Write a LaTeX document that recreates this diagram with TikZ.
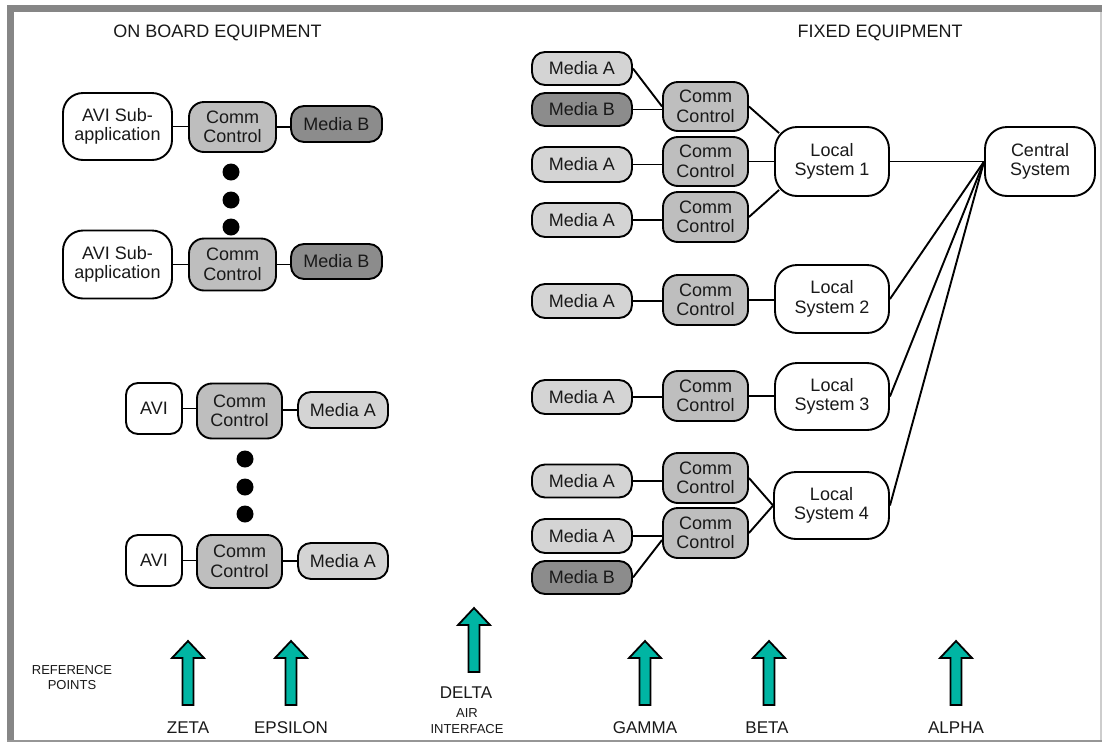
\documentclass[tikz,border=0pt]{standalone}
\usepackage{fontspec}
\setmainfont{Liberation Sans}
\definecolor{framegray}{RGB}{134,134,134}
\definecolor{framelight}{RGB}{150,150,150}
\definecolor{frameedge}{RGB}{205,205,205}
\definecolor{mediaafill}{RGB}{212,212,212}
\definecolor{mediabfill}{RGB}{140,140,140}
\definecolor{commfill}{RGB}{190,190,190}
\definecolor{arrowfill}{RGB}{0,181,163}
\definecolor{inktext}{RGB}{25,25,25}
\tikzset{
  refarrow/.pic={
    \draw[line width=1.8pt, fill=arrowfill, line join=miter]
      (0,0) -- (16,17) -- (5.5,17) -- (5.5,64) -- (-5.5,64) -- (-5.5,17) -- (-16,17) -- cycle;
  }
}
\begin{document}
\begin{tikzpicture}[x=1pt,y=-1pt,
  box/.style={draw=black, line width=1.9pt, inner sep=0pt, align=center, text=inktext,
    font=\fontsize{18}{19.5}\selectfont},
  appbox/.style={box, fill=white, rounded corners=20pt, minimum width=109pt, minimum height=67pt},
  avibox/.style={box, fill=white, rounded corners=12pt, minimum width=56pt, minimum height=51pt},
  commbox/.style={box, fill=commfill, rounded corners=15pt, minimum width=85pt, minimum height=50pt},
  mediaa/.style={box, fill=mediaafill, rounded corners=13pt, minimum width=100pt, minimum height=34pt},
  mediab/.style={box, fill=mediabfill, rounded corners=13pt, minimum width=100pt, minimum height=34pt},
  sysbox/.style={box, fill=white, rounded corners=22pt, minimum width=114pt, minimum height=68pt},
  dotmark/.style={circle, fill=black, inner sep=0pt, minimum size=17pt},
  link/.style={draw=black, line width=1.9pt},
  header/.style={font=\fontsize{18}{20}\selectfont, anchor=base, text=inktext},
  refname/.style={font=\fontsize{17}{19}\selectfont, anchor=base, text=inktext},
  smallnote/.style={font=\fontsize{13}{15}\selectfont, anchor=base, text=inktext}
]
\useasboundingbox (0,0) rectangle (1102,742);
\fill[white] (0,0) rectangle (1102,742);

% frame
\fill[framegray] (7,5) rectangle (1102,12);
\fill[framegray] (7,5) rectangle (14,742);
\fill[framelight] (7,740) rectangle (1102,742);
\fill[frameedge] (1100,12) rectangle (1101.5,740);

% headings
\node[header] (hOn) at (217.5,37) {ON BOARD EQUIPMENT};
\node[header] (hFix) at (880,37) {FIXED EQUIPMENT};

% on board: sub-application chains
\node[appbox] (app1) at (117.5,126.5) {AVI Sub-\\application};
\node[commbox, minimum width=87pt] (lcc1) at (232.5,127) {Comm\\Control};
\node[mediab, minimum width=91pt, minimum height=36pt] (lmb1) at (336.5,124) {Media B};
\node[dotmark] (ld1) at (231,172) {};
\node[dotmark] (ld2) at (231,200) {};
\node[dotmark] (ld3) at (231,227) {};
\node[appbox, minimum height=68pt] (app2) at (117.5,264.5) {AVI Sub-\\application};
\node[commbox, minimum width=87pt, minimum height=52pt] (lcc2) at (232.5,264.5) {Comm\\Control};
\node[mediab, minimum width=91pt, minimum height=35pt] (lmb2) at (336.5,261.5) {Media B};

\draw[link] (app1.east) -- (app1.east -| lcc1.west);
\draw[link] (lcc1.east) -- (lcc1.east -| lmb1.west);
\draw[link] (app2.east) -- (app2.east -| lcc2.west);
\draw[link] (lcc2.east) -- (lcc2.east -| lmb2.west);

% on board: AVI chains
\node[avibox] (avi1) at (154,408.5) {AVI};
\node[commbox, minimum height=55pt] (lcc3) at (239.5,411) {Comm\\Control};
\node[mediaa, minimum width=90pt, minimum height=36pt] (lma1) at (343,410) {Media A};
\node[dotmark] (ld4) at (245,459) {};
\node[dotmark] (ld5) at (245,487) {};
\node[dotmark] (ld6) at (245,514) {};
\node[avibox] (avi2) at (154,560.5) {AVI};
\node[commbox, minimum height=53pt] (lcc4) at (239.5,561.5) {Comm\\Control};
\node[mediaa, minimum width=90pt, minimum height=36pt] (lma2) at (343,561) {Media A};

\draw[link] (avi1.east) -- (avi1.east -| lcc3.west);
\draw[link] (lma1.west -| lcc3.east) -- (lma1.west);
\draw[link] (avi2.east) -- (avi2.east -| lcc4.west);
\draw[link] (lma2.west -| lcc4.east) -- (lma2.west);

% fixed equipment: local system 1
\node[mediaa, minimum height=33pt] (rma1) at (582,68.5) {Media A};
\node[mediab, minimum height=33pt] (rmb1) at (582,109.5) {Media B};
\node[commbox, minimum height=49pt] (rcc1) at (705.5,106.5) {Comm\\Control};
\node[mediaa, minimum height=35pt] (rma2) at (582,164.5) {Media A};
\node[commbox, minimum height=49pt] (rcc2) at (705.5,161.5) {Comm\\Control};
\node[mediaa] (rma3) at (582,220) {Media A};
\node[commbox] (rcc3) at (705.5,217) {Comm\\Control};
\node[sysbox, minimum height=69pt] (ls1) at (832,161.5) {Local\\System 1};
\node[sysbox, minimum width=110pt, minimum height=69pt] (central) at (1040,161.5) {Central\\System};

\draw[link] (rma1.east) -- (rcc1.west);
\draw[link] (rmb1.east) -- (rmb1.east -| rcc1.west);
\draw[link] (rma2.east) -- (rma2.east -| rcc2.west);
\draw[link] (rma3.east) -- (rma3.east -| rcc3.west);
\draw[link] (rcc1.east) -- ([shift={(5,7)}]ls1.north west);
\draw[link] (rcc2.east) -- (rcc2.east -| ls1.west);
\draw[link] (rcc3.east) -- ([shift={(5,-7)}]ls1.south west);

% local system 2
\node[mediaa] (rma4) at (582,301) {Media A};
\node[commbox] (rcc4) at (705.5,300) {Comm\\Control};
\node[sysbox] (ls2) at (832,299) {Local\\System 2};
\draw[link] (rma4.east) -- (rma4.east -| rcc4.west);
\draw[link] (rcc4.east) -- (rcc4.east -| ls2.west);

% local system 3
\node[mediaa] (rma5) at (582,397) {Media A};
\node[commbox] (rcc5) at (705.5,396) {Comm\\Control};
\node[sysbox, minimum height=67pt] (ls3) at (832,396.5) {Local\\System 3};
\draw[link] (rma5.east) -- (rma5.east -| rcc5.west);
\draw[link] (rcc5.east) -- (rcc5.east -| ls3.west);

% local system 4
\node[mediaa, minimum height=33pt] (rma6) at (582,481) {Media A};
\node[commbox] (rcc6) at (705.5,478) {Comm\\Control};
\node[mediaa] (rma7) at (582,536) {Media A};
\node[commbox] (rcc7) at (705.5,533) {Comm\\Control};
\node[mediab, minimum height=33pt] (rmb2) at (582,577.5) {Media B};
\node[sysbox, minimum width=115pt, minimum height=67pt] (ls4) at (831.5,505.5) {Local\\System 4};
\draw[link] (rma6.east) -- (rma6.east -| rcc6.west);
\draw[link] (rma7.east) -- (rma7.east -| rcc7.west);
\draw[link] (rmb2.east) -- ([shift={(0,7)}]rcc7.west);
\draw[link] (rcc6.east) -- (ls4.west);
\draw[link] (rcc7.east) -- (ls4.west);

% local systems to the central system
\draw[link] (ls1.east) -- (central.west);
\draw[link] (ls2.east) -- (central.west);
\draw[link] (ls3.east) -- (central.west);
\draw[link] (ls4.east) -- (central.west);

% reference points
\node[smallnote] (refA) at (72,674) {REFERENCE};
\node[smallnote] (refB) at (72,689.5) {POINTS};
\pic at (188,641) {refarrow};
\node[refname] (zeta) at (188,733) {ZETA};
\pic at (291,641) {refarrow};
\node[refname] (epsilon) at (291,733) {EPSILON};
\pic at (474,608) {refarrow};
\node[refname] (delta) at (466,698) {DELTA};
\node[smallnote] (air) at (467,717.5) {AIR};
\node[smallnote] (iface) at (467,733) {INTERFACE};
\pic at (645,641) {refarrow};
\node[refname] (gamma) at (645,733) {GAMMA};
\pic at (769,641) {refarrow};
\node[refname] (beta) at (767,733) {BETA};
\pic at (956,641) {refarrow};
\node[refname] (alpha) at (956,733) {ALPHA};
\end{tikzpicture}
\end{document}
